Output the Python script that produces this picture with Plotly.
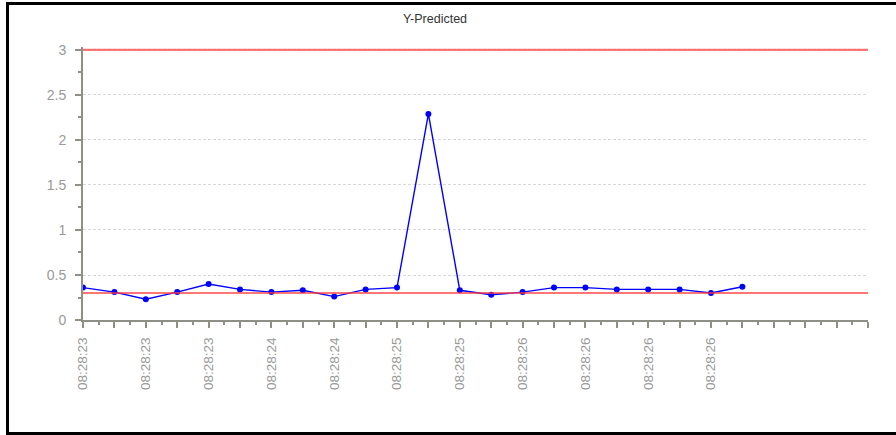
import plotly.graph_objects as go

# ---- data ----
time_labels = ["08:28:23", "08:28:23", "08:28:23", "08:28:23", "08:28:23", "08:28:23",
               "08:28:24", "08:28:24", "08:28:24", "08:28:24", "08:28:25", "08:28:25",
               "08:28:25", "08:28:25", "08:28:26", "08:28:26", "08:28:26", "08:28:26",
               "08:28:26", "08:28:26", "08:28:26", "08:28:26"]
y_predicted = [0.36, 0.31, 0.23, 0.31, 0.40, 0.34, 0.31, 0.33, 0.26, 0.34, 0.36, 2.29,
               0.33, 0.28, 0.31, 0.36, 0.36, 0.34, 0.34, 0.34, 0.30, 0.37]
upper_limit = [3.0, 3.0]
lower_limit = [0.3, 0.3]
axis_span = [0, 25]

idx = list(range(len(y_predicted)))
tick_vals = list(range(axis_span[0], axis_span[1] + 1))
tick_text = [time_labels[i] if (i < len(time_labels) and i % 2 == 0) else "" for i in tick_vals]

W, H = 896, 435
ML, MR, MT, MB = 83, 28, 47, 115
PW, PH = W - ML - MR, H - MT - MB

def px_x(x):
    return (x - ML) / PW

def px_y(y):
    return (H - MB - y) / PH

fig = go.Figure()
fig.add_trace(go.Scatter(
    x=idx, y=y_predicted, mode="lines+markers",
    line=dict(color="#0000ff", width=1.4),
    marker=dict(color="#0000ff", size=6),
    showlegend=False, hoverinfo="skip"))
for lim in (upper_limit, lower_limit):
    fig.add_trace(go.Scatter(
        x=axis_span, y=lim, mode="lines",
        line=dict(color="rgba(255,60,60,0.7)", width=2.2),
        showlegend=False, hoverinfo="skip"))

axis_col = "#8f8f86"
fig.update_layout(
    width=W, height=H,
    margin=dict(l=ML, r=MR, t=MT, b=MB),
    paper_bgcolor="white", plot_bgcolor="white",
    font=dict(family="Liberation Sans, Arial, sans-serif", size=12, color="#888888"),
    title=dict(text="Y-Predicted", x=px_x(435), xref="paper", xanchor="center",
               y=1 - 19 / H, yanchor="middle",
               font=dict(size=12.5, color="#333333")),
    xaxis=dict(range=axis_span, tickmode="array", tickvals=tick_vals, ticktext=tick_text,
               tickangle=-90, ticks="outside", ticklen=6, tickwidth=1.5, tickcolor=axis_col,
               showline=True, linecolor=axis_col, linewidth=2, showgrid=False, zeroline=False,
               ticklabelstandoff=4,
               tickfont=dict(size=13.5, color="#999999"),
               minor=dict(dtick=0.5, tick0=0, ticks="outside", ticklen=3, tickwidth=1.5,
                          tickcolor=axis_col, showgrid=False)),
    yaxis=dict(range=[0, 3.033], tickmode="linear", tick0=0, dtick=0.5,
               ticks="outside", ticklen=6, tickwidth=1.5, tickcolor=axis_col,
               showline=True, linecolor=axis_col, linewidth=2, zeroline=False,
               showgrid=True, gridcolor="#d8d8d8", griddash="3px,2px", gridwidth=1,
               ticklabelstandoff=6,
               tickfont=dict(size=14, color="#999999"),
               minor=dict(dtick=0.25, ticks="outside", ticklen=3, tickwidth=1.5,
                          tickcolor=axis_col, showgrid=False)),
    shapes=[dict(type="rect", xref="paper", yref="paper",
                 x0=px_x(7.5), x1=px_x(898), y0=px_y(433.5), y1=px_y(3.5),
                 line=dict(color="black", width=3), layer="above")],
)

fig.write_html("out.html", config={"displayModeBar": False},
               post_script="document.body.style.margin='0';document.body.style.padding='0';")
